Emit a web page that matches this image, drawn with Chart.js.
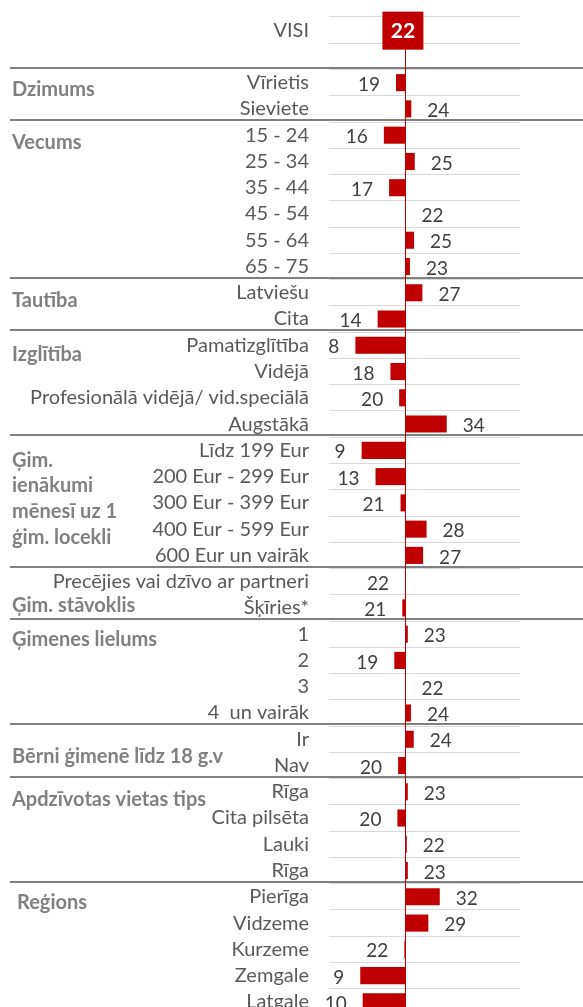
<!DOCTYPE html>
<html>
<head>
<meta charset="utf-8">
<script src="https://cdn.jsdelivr.net/npm/chart.js@4.4.0/dist/chart.umd.min.js"></script>
<style>
  html, body { margin: 0; padding: 0; background: #fff; overflow: hidden; }
  #wrap { position: relative; width: 583px; height: 1015px; }
</style>
</head>
<body>
<div id="wrap"><canvas id="chart"></canvas></div>
<script>
// Average (VISI) – bars start from here
const AVG = 22;

const rowLabels = [
  'VISI', '',
  'Vīrietis', 'Sieviete',
  '15 - 24', '25 - 34', '35 - 44', '45 - 54', '55 - 64', '65 - 75',
  'Latviešu', 'Cita',
  'Pamatizglītība', 'Vidējā', 'Profesionālā vidējā/ vid.speciālā', 'Augstākā',
  'Līdz 199 Eur', '200 Eur - 299 Eur', '300 Eur - 399 Eur', '400 Eur - 599 Eur', '600 Eur un vairāk',
  'Precējies vai dzīvo ar partneri', 'Šķīries*',
  '1', '2', '3', '4  un vairāk',
  'Ir', 'Nav',
  'Rīga', 'Cita pilsēta', 'Lauki', 'Rīga',
  'Pierīga', 'Vidzeme', 'Kurzeme', 'Zemgale', 'Latgale'
];

const rowValues = [
  22, null,
  19.3, 23.7,
  15.8, 24.7, 17.3, 22.0, 24.5, 23.3,
  26.9, 14.0,
  7.6, 17.7, 20.2, 33.9,
  9.4, 13.4, 20.6, 28.1, 27.1,
  21.9, 21.1,
  22.7, 18.8, 22.0, 23.6,
  24.4, 19.9,
  22.7, 19.7, 22.4, 22.7,
  31.9, 28.6, 21.7, 9.0, 9.7
];

// group headings and the row index where each group begins
const groupNames = [
  'Dzimums', 'Vecums', 'Tautība', 'Izglītība',
  'Ģim.\nienākumi\nmēnesī uz 1\nģim. locekli',
  'Ģim. stāvoklis', 'Ģimenes lielums', 'Bērni ģimenē līdz 18 g.v',
  'Apdzīvotas vietas tips', 'Reģions'
];
const groupStarts = [2, 4, 10, 12, 16, 21, 23, 27, 29, 33];

const RED = '#C00000';

// where each heading sits inside its block (in rows from the first row)
const grpShift = [0.25, 0.27, 0.28, 0.34, 0.37, 0.92, 0.2, 0.67, 0.3, 0.2];
const grpX = [12, 12, 12, 12, 12, 12, 12, 12, 12, 17];

const overlay = {
  id: 'overlay',
  beforeDatasetsDraw(chart) {
    const ctx = chart.ctx;
    const y = chart.scales.y;
    const step = y.getPixelForValue(1) - y.getPixelForValue(0);
    ctx.save();
    // group separators
    ctx.strokeStyle = '#808080';
    ctx.lineWidth = 2;
    groupStarts.forEach(r => {
      const yy = Math.round(y.getPixelForValue(r) - step / 2) - 2;
      ctx.beginPath();
      ctx.moveTo(10, yy);
      ctx.lineTo(chart.width, yy);
      ctx.stroke();
    });
    // group headings
    ctx.fillStyle = '#808080';
    ctx.font = 'bold 20px Lato';
    ctx.textAlign = 'left';
    ctx.textBaseline = 'middle';
    groupNames.forEach((g, i) => {
      g.split('\n').forEach((line, k) => {
        const yy = y.getPixelForValue(groupStarts[i]) + (grpShift[i] + k * 0.98) * step;
        ctx.fillText(line, grpX[i], yy);
      });
    });
    ctx.restore();
  },
  afterDatasetsDraw(chart) {
    const ctx = chart.ctx;
    const x = chart.scales.x;
    const y = chart.scales.y;
    const x0 = x.getPixelForValue(AVG);
    ctx.save();
    // vertical average line
    ctx.strokeStyle = RED;
    ctx.lineWidth = 1;
    ctx.beginPath();
    ctx.moveTo(Math.round(x0) + 0.5, chart.chartArea.top);
    ctx.lineTo(Math.round(x0) + 0.5, chart.chartArea.bottom);
    ctx.stroke();

    ctx.textBaseline = 'middle';
    rowValues.forEach((v, i) => {
      if (v === null) return;
      const yy = y.getPixelForValue(i);
      const txt = String(Math.round(v));
      if (i === 0) {
        // VISI box
        ctx.fillStyle = RED;
        ctx.fillRect(x0 - 23, yy - 18.5, 41, 38);
        ctx.fillStyle = '#fff';
        ctx.font = 'bold 21px Lato';
        ctx.textAlign = 'center';
        ctx.fillText(txt, x0 - 2.5, yy + 1);
        return;
      }
      const xe = x.getPixelForValue(v);
      ctx.fillStyle = '#404040';
      ctx.font = '19px Lato';
      if (v >= AVG) {
        ctx.textAlign = 'left';
        ctx.fillText(txt, xe + 16, yy + 2);
      } else {
        ctx.textAlign = 'right';
        ctx.fillText(txt, xe - 16, yy + 2);
      }
    });
    ctx.restore();
  }
};

new Chart(document.getElementById('chart'), {
  type: 'bar',
  data: {
    labels: rowLabels,
    datasets: [{
      data: rowValues.map((v, i) => (v === null || i === 0) ? null : [AVG, v]),
      backgroundColor: RED,
      borderWidth: 0,
      barPercentage: 0.65,
      categoryPercentage: 1
    }]
  },
  options: {
    indexAxis: 'y',
    responsive: true,
    maintainAspectRatio: false,
    animation: false,
    layout: { padding: { left: 0, right: 63, top: 17, bottom: 0 } },
    plugins: { legend: { display: false }, tooltip: { enabled: false } },
    scales: {
      x: {
        display: false,
        min: 0,
        max: 55
      },
      y: {
        afterFit: (s) => { s.width = 329; s.paddingTop = 0; s.paddingBottom = 0; },
        grid: { color: '#d9d9d9', drawTicks: false, offset: true },
        border: { display: false },
        ticks: {
          autoSkip: false,
          padding: 20,
          color: '#595959',
          font: { family: 'Lato', size: 20 }
        }
      }
    }
  },
  plugins: [overlay]
});
</script>
</body>
</html>
